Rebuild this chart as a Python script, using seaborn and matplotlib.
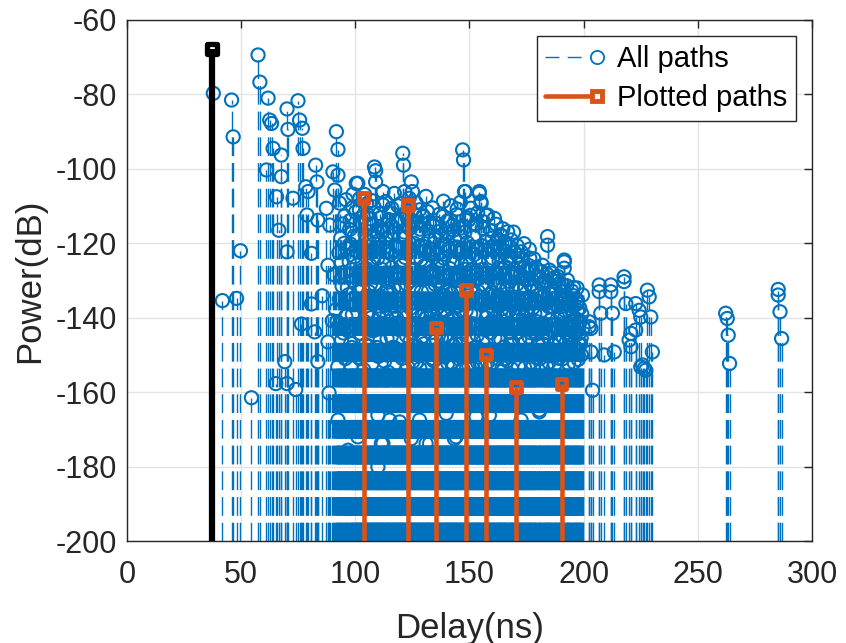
import numpy as np
import pandas as pd
import matplotlib
matplotlib.use("Agg")
import matplotlib.pyplot as plt
from matplotlib.lines import Line2D
from matplotlib.legend_handler import HandlerLine2D
import seaborn as sns

# ---------------------------------------------------------------- data
# Early, sparse arrivals (ns, dB)
early_delay = [37.8, 41.8, 45.8, 46.5, 48.0, 49.7, 54.5, 57.4, 58.2, 61.1,
               61.8, 62.5, 63.3, 64.0, 65.2, 65.5, 66.5, 67.6, 67.6, 69.1,
               70.1, 70.1, 70.1, 70.5, 72.7, 73.9, 74.9, 75.6, 76.4, 76.8,
               77.1, 78.3, 78.8, 79.3, 80.8, 80.8, 82.2, 82.6, 83.2, 83.6,
               83.6, 85.5, 87.3, 88.0, 88.0, 88.5, 88.8, 89.9]
early_power = [-79.7, -135.4, -81.5, -91.4, -134.8, -122.0, -161.5, -69.4, -76.7, -100.3,
               -81.0, -86.9, -87.8, -94.5, -157.7, -107.5, -116.5, -96.3, -102.1, -151.8,
               -83.9, -122.3, -157.7, -89.4, -107.9, -159.3, -81.7, -86.9, -141.7, -89.1,
               -94.5, -104.8, -112.4, -106.1, -122.7, -136.3, -143.8, -99.0, -103.5, -113.8,
               -151.8, -134.1, -110.6, -125.9, -146.5, -160.2, -115.1, -140.8]

# Dense cluster of scattered paths (ns, dB)
cluster_delay = [
    90.2, 91.0, 91.7, 92.4, 92.4, 93.1, 92.3, 92.4, 90.6, 91.4, 93.6, 94.2, 94.8, 93.9,
    95.3, 95.8, 96.2, 96.8, 97.1, 97.5, 98.0, 98.4, 98.9, 99.3, 99.7,
    100.4, 100.4, 101.1, 101.1, 100.9, 101.6, 102.0, 102.5, 102.9, 103.2, 104.1, 104.4, 104.8,
    105.3, 105.7, 106.2, 106.6, 107.1, 107.5, 108.0, 108.4, 108.9, 108.9, 109.3, 109.9, 109.9, 109.6,
    110.3, 110.8, 111.4, 111.2, 112.1, 112.1, 112.1, 112.6, 113.0, 113.5, 113.9, 114.3, 114.8, 115.0,
    115.5, 115.9, 116.4, 116.8, 117.3, 117.7, 118.1, 118.6, 119.0, 119.4, 119.8,
    120.3, 120.8, 121.1, 121.6, 121.3, 122.0, 122.4, 123.3, 123.8, 124.5, 124.5, 124.2, 124.9,
    125.0, 125.5, 126.0, 126.4, 126.9, 127.3, 127.8, 128.1, 128.1, 128.6, 129.1, 129.5,
    130.0, 130.4, 131.0, 131.6, 131.2, 132.0, 132.5, 132.8, 133.3, 133.8, 134.2, 134.6,
    135.4, 135.7, 136.2, 136.6, 137.1, 137.5, 138.0, 138.4, 138.9, 139.3, 139.8, 139.8,
    140.2, 140.7, 141.1, 141.6, 142.0, 142.5, 142.9, 143.4, 143.4, 143.8, 144.1, 144.6,
    145.0, 145.5, 145.9, 146.4, 147.0, 147.4, 147.8, 148.2, 147.6, 148.5, 149.0, 149.5,
    150.0, 150.4, 150.9, 151.3, 151.8, 152.3, 152.9, 153.2, 153.7, 154.3, 154.3, 154.8,
    155.0, 155.1, 155.6, 156.1, 156.5, 157.0, 157.5, 158.0, 158.7, 158.4, 159.0, 159.5,
    160.0, 160.4, 160.9, 161.4, 161.8, 162.3, 162.8, 163.2, 163.7, 164.1, 164.6,
    165.0, 165.5, 166.0, 166.7, 167.0, 167.4, 167.9, 168.3, 168.8, 169.2, 169.7,
    170.3, 170.7, 171.2, 171.7, 172.1, 172.6, 172.6, 173.3, 173.6, 174.0, 174.5,
    175.0, 175.4, 175.9, 176.4, 176.8, 177.3, 177.8, 178.4, 178.9, 179.8, 179.4,
    180.2, 180.6, 180.6, 181.1, 182.0, 182.5, 183.0, 183.5, 184.2, 184.2, 184.7,
    185.0, 185.6, 186.1, 186.6, 187.1, 187.9, 188.3, 188.8, 189.3, 189.8,
    190.4, 191.0, 191.5, 191.5, 191.5, 192.1, 192.6, 193.2, 193.7, 194.2, 194.8,
    195.3, 195.9, 196.4, 197.3, 197.3, 197.3, 197.9, 198.1, 198.6, 199.2]
cluster_power = [
    -100.8, -105.7, -90.0, -94.8, -101.7, -109.2, -153.2, -167.5, -128.4, -137.9, -118.6, -131.5, -144.1, -125.2,
    -112.7, -139.6, -121.4, -175.6, -133.8, -116.3, -146.9, -127.1, -110.4, -136.5, -123.6,
    -103.9, -169.8, -172.0, -103.9, -118.2, -141.7, -129.5, -114.4, -135.3, -122.0, -106.9, -147.2, -126.8,
    -112.3, -138.4, -119.7, -131.0, -108.5, -143.5, -124.3, -99.5, -100.5, -103.5, -134.6, -166.2, -180.1, -116.8,
    -128.2, -140.3, -173.8, -113.1, -106.1, -109.7, -173.8, -125.5, -136.7, -118.9, -145.6, -130.4, -111.7, -167.5,
    -122.8, -139.0, -115.6, -132.2, -148.1, -120.5, -127.7, -109.9, -141.3, -168.0, -124.9,
    -113.6, -95.8, -99.0, -106.1, -135.9, -118.4, -144.8, -128.9, -116.0, -103.5, -172.5, -137.4, -121.7,
    -106.1, -131.6, -112.2, -142.6, -124.0, -117.3, -135.1, -111.0, -167.5, -146.3, -120.6, -129.8,
    -114.9, -138.7, -173.8, -111.5, -125.8, -132.9, -173.8, -119.2, -144.0, -127.4, -115.4, -136.2,
    -114.6, -122.9, -148.4, -130.1, -118.0, -139.5, -126.3, -112.8, -134.0, -145.3, -117.3, -165.7,
    -129.2, -121.5, -140.8, -113.9, -133.4, -125.1, -147.5, -172.5, -118.7, -137.1, -172.0, -110.8,
    -131.9, -122.6, -142.2, -115.9, -94.9, -97.6, -106.1, -106.1, -128.5, -138.1, -119.8, -145.0,
    -125.6, -112.5, -134.9, -141.6, -118.3, -129.9, -166.6, -147.9, -121.1, -106.1, -106.6, -136.4,
    -108.8, -109.3, -127.0, -114.2, -143.1, -131.3, -119.5, -138.9, -166.2, -124.7, -148.6, -116.6,
    -133.1, -121.9, -113.3, -140.0, -127.9, -118.8, -145.8, -130.7, -123.3, -137.6, -116.1,
    -128.6, -142.4, -120.2, -116.9, -134.4, -125.0, -147.1, -119.1, -131.8, -139.3, -122.4,
    -128.1, -136.0, -143.9, -125.4, -132.5, -122.3, -167.5, -124.5, -139.9, -129.6, -146.5,
    -127.3, -134.7, -141.0, -124.0, -131.2, -148.8, -137.3, -131.7, -126.5, -132.6, -144.4,
    -129.0, -165.3, -164.8, -138.5, -125.9, -134.1, -142.8, -130.5, -118.2, -120.5, -137.0,
    -127.2, -140.6, -133.6, -147.4, -129.3, -130.3, -136.8, -143.2, -131.0, -139.1,
    -134.3, -145.2, -124.5, -126.7, -125.0, -138.2, -131.4, -141.9, -135.5, -146.2, -132.8,
    -139.4, -143.6, -134.9, -136.2, -135.3, -138.0, -141.4, -144.2, -147.0, -139.0]

# Further paths inside the dense cluster (ns, dB)
core_delay = [
    92.0, 92.8, 93.3, 94.5, 95.0, 95.6, 96.5, 97.0, 97.8, 98.2, 98.7, 99.5,
    100.2, 100.7, 101.3, 101.8, 102.3, 102.7, 103.0, 103.7, 104.3, 104.9,
    105.5, 106.0, 106.4, 106.9, 107.3, 107.8, 108.2, 108.6, 109.1, 109.5,
    110.1, 110.5, 111.0, 111.6, 112.4, 112.8, 113.2, 113.7, 114.1, 114.5,
    115.2, 115.7, 116.1, 116.6, 117.0, 117.5, 117.9, 118.3, 118.8, 119.2, 119.6,
    120.1, 120.5, 121.8, 122.2, 122.7, 123.0, 123.5, 124.0, 124.7,
    125.2, 125.8, 126.2, 126.7, 127.1, 127.6, 128.3, 128.8, 129.3, 129.8,
    130.2, 130.7, 131.4, 131.8, 132.2, 132.7, 133.1, 133.6, 134.0, 134.4, 134.9,
    135.2, 135.9, 136.4, 136.9, 137.3, 137.7, 138.2, 138.7, 139.1, 139.6,
    140.0, 140.5, 140.9, 141.4, 141.8, 142.2, 142.7, 143.1, 143.6, 144.0, 144.4, 144.9,
    145.3, 145.7, 146.1, 146.6, 147.2, 148.0, 148.7, 149.2, 149.7,
    150.2, 150.7, 151.1, 151.5, 152.0, 152.5, 153.0, 153.4, 153.9, 154.5,
    155.3, 155.8, 156.3, 156.8, 157.2, 157.7, 158.2, 158.9, 159.3, 159.7,
    160.2, 160.7, 161.1, 161.6, 162.0, 162.5, 163.0, 163.4, 163.9, 164.3, 164.8,
    165.2, 165.7, 166.2, 166.5, 167.2, 167.6, 168.1, 168.5, 169.0, 169.5, 169.9,
    170.5, 170.9, 171.4, 171.9, 172.3, 172.8, 173.1, 173.8, 174.2, 174.7,
    175.2, 175.6, 176.1, 176.6, 177.0, 177.5, 178.1, 178.6, 179.1, 179.6,
    180.4, 180.9, 181.3, 181.7, 182.2, 182.7, 183.2, 183.7, 184.0, 184.5, 184.9,
    185.3, 185.8, 186.3, 186.8, 187.4, 187.6, 188.1, 188.6, 189.1, 189.6,
    190.1, 190.7, 191.2, 191.8, 192.3, 192.9, 193.4, 193.9, 194.5,
    195.0, 195.6, 196.1, 196.7, 197.6, 198.3, 198.9, 199.5, 199.8]
core_power = [
    -141.0, -122.5, -149.5, -114.8, -127.8, -151.0, -131.9, -143.6, -120.2, -153.4, -139.2, -118.1,
    -136.4, -125.9, -150.6, -111.0, -144.2, -120.8, -132.0, -154.0, -117.6, -138.8,
    -128.6, -147.7, -113.4, -122.6, -152.3, -136.0, -117.9, -143.3, -127.9, -121.3,
    -150.4, -119.2, -134.2, -143.0, -116.5, -151.7, -128.6, -139.8, -122.1, -154.7,
    -133.3, -145.1, -126.5, -117.2, -152.6, -136.9, -113.8, -143.0, -131.7, -150.0, -118.2,
    -131.4, -150.9, -123.8, -139.9, -113.1, -153.3, -134.6, -146.3, -127.2,
    -151.8, -120.0, -138.1, -114.6, -147.7, -129.0, -153.7, -124.4, -139.6, -112.9,
    -147.0, -122.1, -154.0, -135.5, -116.8, -149.4, -128.0, -139.0, -121.6, -151.6, -131.0,
    -142.1, -137.3, -116.9, -153.1, -124.6, -145.3, -131.7, -120.4, -150.5, -128.7,
    -139.6, -152.2, -117.3, -126.8, -145.9, -136.3, -115.2, -152.9, -129.6, -142.0, -121.0, -150.1,
    -136.8, -118.1, -147.0, -125.7, -153.9, -117.0, -150.0, -130.6, -113.7,
    -149.4, -131.9, -120.9, -153.6, -139.1, -115.0, -127.3, -144.7, -133.0, -151.9,
    -120.6, -146.3, -135.2, -153.0, -112.5, -128.1, -149.1, -133.8, -121.1, -140.9,
    -152.1, -128.0, -145.4, -119.9, -136.6, -151.0, -124.8, -142.5, -118.0, -153.3, -132.1,
    -147.9, -126.3, -139.7, -151.6, -130.2, -144.0, -123.5, -153.8, -136.6, -127.1, -149.3,
    -142.0, -120.7, -153.0, -137.6, -128.5, -150.1, -134.8, -126.7, -153.5, -138.1,
    -149.6, -129.7, -145.2, -135.3, -152.0, -126.9, -143.6, -138.9, -150.7, -129.0,
    -147.3, -133.7, -152.4, -127.6, -141.5, -148.9, -136.2, -153.0, -128.3, -145.2, -133.5,
    -150.2, -131.4, -143.7, -137.2, -152.5, -134.9, -146.4, -128.9, -150.9, -135.1,
    -142.3, -131.1, -150.0, -139.8, -146.7, -129.9, -152.3, -143.0, -137.6,
    -149.4, -131.9, -147.8, -140.3, -151.2, -137.4, -145.5, -133.9, -142.7]

# Paths filling the middle of the cluster (ns, dB)
inner_delay = [
    93.0, 94.0, 95.2, 96.0, 97.3, 98.5, 99.1, 99.9,
    100.6, 101.5, 102.1, 103.4, 104.0, 104.6, 105.1, 105.9, 106.5, 107.0, 107.6, 108.5, 109.4, 109.8,
    110.9, 111.5, 112.0, 113.1, 113.6, 114.0, 114.9, 115.4, 116.3, 117.2, 118.0, 118.7, 119.5,
    120.4, 121.0, 121.5, 122.6, 123.2, 123.9, 124.4, 125.4, 126.1, 126.8, 127.5, 128.0, 128.9, 129.6,
    130.3, 130.8, 131.3, 132.1, 132.9, 133.5, 134.1, 134.8, 135.5, 136.0, 136.7, 137.4, 138.1, 138.8, 139.5,
    140.3, 140.8, 141.3, 142.1, 142.6, 143.3, 143.9, 144.7, 145.2, 145.8, 146.3, 146.9, 147.5, 148.3, 149.1, 149.8,
    150.5, 151.0, 151.7, 152.2, 152.8, 153.5, 154.1, 154.7, 155.4, 156.0, 156.6, 157.3, 157.9, 158.5, 159.2,
    160.1, 160.6, 161.3, 161.9, 162.6, 163.1, 163.8, 164.4, 164.9, 165.6, 166.3, 166.9, 167.5, 168.2, 168.7, 169.4,
    170.2, 170.8, 171.5, 172.0, 172.7, 173.4, 174.1, 174.8, 175.5, 176.0, 176.7, 177.2, 177.9, 178.5, 179.2,
    180.3, 180.8, 181.5, 182.1, 182.9, 183.4, 184.1, 184.8, 185.5, 186.0, 186.9, 187.3, 188.0, 188.7, 189.4,
    190.3, 190.9, 191.6, 192.5, 193.1, 193.8, 194.6, 195.2, 195.8, 196.5, 197.1, 197.8, 198.5, 199.0]
inner_power = [
    -135, -146, -120, -143, -125, -148, -130, -142,
    -122, -133, -151, -127, -141, -119, -150, -133, -126, -140, -115, -131, -148, -124,
    -146, -127, -138, -121, -150, -133, -141, -118, -148, -129, -140, -121, -135,
    -126, -143, -117, -131, -149, -122, -130, -144, -127, -152, -139, -121, -133, -145,
    -126, -149, -140, -123, -138, -151, -129, -119, -146, -126, -141, -134, -150, -124, -138,
    -146, -133, -122, -152, -140, -125, -147, -130, -151, -129, -138, -122, -143, -127, -136, -153,
    -139, -127, -146, -123, -135, -152, -125, -143, -131, -149, -122, -140, -152, -129, -144,
    -124, -138, -131, -149, -134, -121, -146, -127, -139, -151, -132, -124, -138, -146, -129, -142,
    -150, -131, -139, -146, -136, -143, -132, -149, -138, -126, -144, -131, -153, -135, -141,
    -136, -151, -131, -147, -130, -144, -136, -152, -137, -128, -142, -149, -133, -140, -146,
    -137, -151, -133, -144, -136, -148, -141, -134, -152, -144, -132, -147, -141, -150]

# Stronger paths along the top of the cluster (ns, dB)
upper_delay = [95.9, 97.7, 99.0, 100.1, 101.9, 103.5, 105.0, 106.8, 108.1, 110.6,
               111.8, 113.3, 114.6, 116.0, 117.1, 118.9, 119.9, 121.9, 123.6, 125.6,
               126.6, 128.4, 129.7, 130.9, 132.4, 133.9, 135.0, 136.8, 138.6, 140.4,
               141.9, 143.0, 144.3, 146.0, 148.9, 150.6, 152.6, 153.6, 156.0, 157.9,
               159.9, 161.7, 163.5, 165.4, 167.8, 169.3, 171.1, 173.9, 176.2, 178.2]
upper_power = [-108.3, -113.9, -106.8, -111.6, -108.0, -112.9, -109.4, -114.8, -110.2, -112.0,
               -117.0, -108.8, -113.6, -110.6, -106.6, -114.2, -109.3, -111.9, -107.9, -114.1,
               -109.1, -116.2, -112.6, -107.4, -114.5, -110.5, -118.3, -112.2, -108.7, -114.0,
               -109.9, -116.5, -112.3, -109.0, -113.1, -110.6, -114.8, -111.8, -116.0, -112.4,
               -118.6, -114.9, -117.7, -119.7, -121.0, -117.0, -123.2, -120.1, -121.6, -124.2]

# Late arrivals (ns, dB)
late_delay = [202.4, 202.4, 203.2, 203.2, 203.9, 206.8, 206.8, 207.5, 209.0, 211.9,
              211.9, 212.6, 213.4, 217.7, 217.7, 218.5, 219.9, 220.7, 220.7, 222.8,
              222.8, 224.3, 225.0, 225.0, 225.8, 226.5, 227.2, 227.9, 228.7, 229.4,
              230.1, 262.2, 262.9, 263.3, 263.9, 285.2, 285.2, 286.0, 286.7]
late_power = [-142.4, -141.1, -142.9, -149.2, -159.5, -131.2, -133.0, -138.8, -150.0, -131.2,
              -133.0, -138.8, -149.2, -129.0, -130.3, -136.2, -146.0, -144.2, -147.8, -136.2,
              -143.3, -138.0, -139.8, -153.2, -152.7, -153.6, -154.1, -132.6, -134.4, -139.8,
              -149.2, -138.8, -140.2, -144.7, -152.3, -132.4, -133.9, -138.4, -145.6]

# Selected paths
first_delay = [37.3]
first_power = [-67.8]
plotted_delay = [103.6, 123.0, 135.4, 148.5, 157.3, 170.4, 190.3]
plotted_power = [-107.9, -109.7, -142.6, -132.6, -149.9, -158.7, -157.9]

x_ticks = [0, 50, 100, 150, 200, 250, 300]
y_ticks = [-200, -180, -160, -140, -120, -100, -80, -60]

# ---------------------------------------------------------------- style
BLUE = "#0072BD"
ORANGE = "#D95319"
AXC = "#262626"
FLOOR = -200

sns.set_theme(style="whitegrid")
plt.rcParams["font.family"] = ["Liberation Sans", "DejaVu Sans"]
plt.rcParams.update({
    "axes.unicode_minus": False,
    "axes.edgecolor": AXC,
    "axes.linewidth": 1.0,
    "grid.color": "#E3E3E3",
    "grid.linewidth": 1.0,
    "xtick.direction": "in",
    "ytick.direction": "in",
})

paths = pd.DataFrame({
    "delay": early_delay + cluster_delay + core_delay + inner_delay + upper_delay + late_delay,
    "power": early_power + cluster_power + core_power + inner_power + upper_power + late_power,
})
chosen = pd.DataFrame({"delay": plotted_delay, "power": plotted_power})
first = pd.DataFrame({"delay": first_delay, "power": first_power})

fig = plt.figure(figsize=(8.46, 6.43), dpi=100)
ax = fig.add_axes([0.1501, 0.1586, 0.8097, 0.8103])

# all paths: dashed stems from the floor up to each path power
ax.vlines(paths["delay"], FLOOR, paths["power"], colors=BLUE,
          linewidth=1.0, linestyles=(0, (13.5, 5.0)), zorder=2)
sns.scatterplot(data=paths, x="delay", y="power", ax=ax, marker="o", s=90,
                facecolor="none", edgecolor=BLUE, linewidth=1.5, zorder=3,
                legend=False)

# plotted paths
ax.vlines(chosen["delay"], FLOOR, chosen["power"], colors=ORANGE,
          linewidth=3.3, zorder=4)
sns.scatterplot(data=chosen, x="delay", y="power", ax=ax, marker="s", s=49,
                facecolor="none", edgecolor=ORANGE, linewidth=3.5, zorder=5,
                legend=False)

# line-of-sight path
ax.vlines(first["delay"], FLOOR, first["power"], colors="black",
          linewidth=4.5, zorder=4)
sns.scatterplot(data=first, x="delay", y="power", ax=ax, marker="s", s=56,
                facecolor="none", edgecolor="black", linewidth=3.8, zorder=5,
                legend=False)

ax.set_xlim(0, 300)
ax.set_ylim(-200, -60)
ax.set_xticks(x_ticks)
ax.set_yticks(y_ticks)
ax.tick_params(axis="both", labelsize=22, colors=AXC, length=6, width=1.0,
               top=True, right=True)
ax.tick_params(axis="x", pad=14)
ax.tick_params(axis="y", pad=7)
ax.set_xlabel("Delay(ns)", fontsize=25, color=AXC)
ax.set_ylabel("Power(dB)", fontsize=25, color=AXC)
ax.xaxis.set_label_coords(0.5, -0.167)
ax.xaxis.label.set_va("center")
ax.yaxis.set_label_coords(-0.1416, 0.5)
ax.yaxis.label.set_va("center")
for s in ax.spines.values():
    s.set_visible(True)
    s.set_color(AXC)
ax.grid(True, zorder=0)
ax.set_axisbelow(True)


class EndMarkerHandler(HandlerLine2D):
    """Legend entry: a line across the handle that stops at a marker on its right end."""
    def create_artists(self, legend, orig_handle, xdescent, ydescent,
                       width, height, fontsize, trans):
        y = (height - ydescent) / 2
        x0, x1 = -xdescent, -xdescent + width
        stop = x1 - orig_handle.get_markersize() / 2
        line = Line2D([x0, stop], [y, y])
        self.update_prop(line, orig_handle, legend)
        line.set_marker("None")
        mark = Line2D([x1], [y])
        self.update_prop(mark, orig_handle, legend)
        mark.set_linestyle("None")
        line.set_transform(trans)
        mark.set_transform(trans)
        return [line, mark]


h_all = Line2D([], [], color=BLUE, linewidth=1.0, linestyle=(0, (10, 6)),
               marker="o", markersize=9.5, markerfacecolor="none",
               markeredgewidth=1.3)
h_sel = Line2D([], [], color=ORANGE, linewidth=3.3, marker="s", markersize=7.5,
               markerfacecolor="none", markeredgewidth=3.5)
leg = ax.legend([h_all, h_sel], ["All paths", "Plotted paths"],
                loc="upper right", fontsize=21, frameon=True, fancybox=False,
                framealpha=1.0, edgecolor=AXC, borderaxespad=0.55,
                handlelength=1.75, handletextpad=0.7, borderpad=0.3,
                labelspacing=0.4, numpoints=1,
                handler_map={Line2D: EndMarkerHandler()})
leg.get_frame().set_linewidth(1.0)
for t in leg.get_texts():
    t.set_color("black")

fig.savefig("out.png", dpi=100)
